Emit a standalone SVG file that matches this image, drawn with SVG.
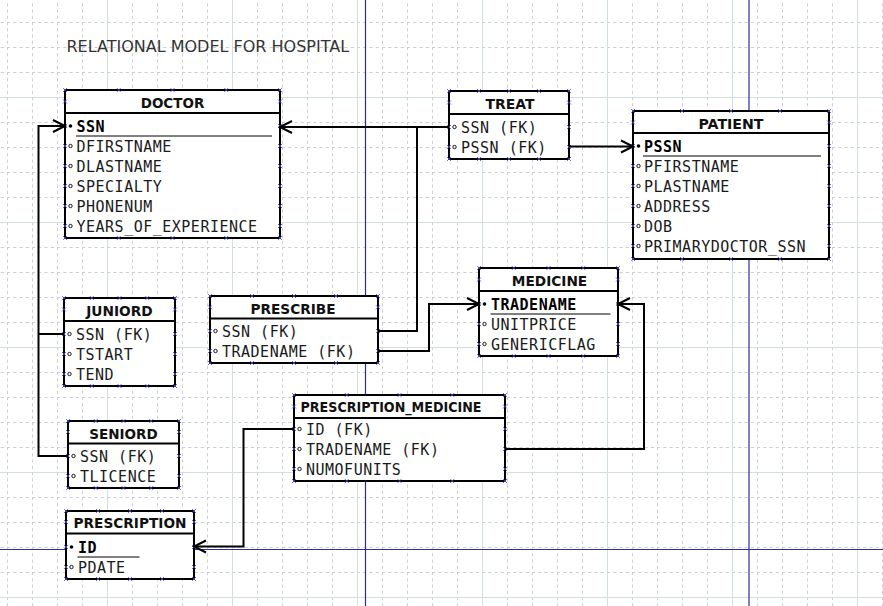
<svg xmlns="http://www.w3.org/2000/svg" width="883" height="606" viewBox="0 0 883 606">
<defs>
<style>
.box{fill:#fff;stroke:#000;stroke-width:2}
.sep{stroke:#000;stroke-width:2}
.hd{font-family:"DejaVu Sans",sans-serif;font-weight:bold;font-size:13.8px;text-anchor:middle;fill:#111}
.at{font-family:"DejaVu Sans Mono",monospace;font-size:15px;letter-spacing:.5px;fill:#1a1a1a}
.key{font-family:"DejaVu Sans Mono",monospace;font-size:15px;letter-spacing:.5px;font-weight:bold;fill:#000}
.ul{stroke:#000;stroke-width:1}
.fk{fill:#fff;stroke:#000;stroke-width:.9}
.pk{fill:#000}
.cps{fill:none;stroke:none;marker-start:url(#cpm);marker-mid:url(#cpm);marker-end:url(#cpm)}
.conn{fill:none;stroke:#000;stroke-width:2}
.arr{marker-end:url(#arrow)}
.page{stroke:#2c2c9c;stroke-width:1.2}
.gsolid{stroke:#d3dfdf;stroke-width:1}
</style>
<pattern id="grid" patternUnits="userSpaceOnUse" x="7" y="22" width="25" height="25">
<path d="M0.5,0V25M0,0.5H25" fill="none" stroke="#c9cfd2" stroke-width="1" stroke-dasharray="3.125 3.125"/>
</pattern>
<marker id="cpm" markerUnits="userSpaceOnUse" markerWidth="8" markerHeight="8" refX="4" refY="4" overflow="visible">
<path d="M2,2L6,6M2,6L6,2" stroke="#4a4ad2" stroke-width=".8" fill="none"/>
</marker>
<marker id="arrow" markerUnits="userSpaceOnUse" markerWidth="16" markerHeight="16" refX="0" refY="0" orient="auto" overflow="visible">
<path d="M-12,-6L0,0L-12,6" fill="none" stroke="#000" stroke-width="2"/>
</marker>
</defs>
<g id="background">
<rect width="883" height="606" fill="#fff"/>
<rect width="883" height="606" fill="url(#grid)"/>
<path class="gsolid" d="M107.5,0V606M232.5,0V606M357.5,0V606M482.5,0V606M607.5,0V606M732.5,0V606M857.5,0V606M0,97.5H883M0,222.5H883M0,347.5H883M0,472.5H883M0,597.5H883"/>
<path class="page" d="M365.5,0V606M749,0V606M0,549.5H883"/>
</g>
<text x="66.5" y="52" font-family="DejaVu Sans, sans-serif" font-size="16" fill="#333">RELATIONAL MODEL FOR HOSPITAL</text>

<g id="doctor">
<rect class="box" x="65" y="90" width="215" height="148"/>
<line class="sep" x1="65" y1="113" x2="280" y2="113"/>
<text class="hd" x="172.5" y="108" textLength="63.5" lengthAdjust="spacingAndGlyphs">DOCTOR</text>
<circle class="pk" cx="70.5" cy="126" r="1.8"/>
<text class="key" x="76.5" y="132">SSN</text>
<line class="ul" x1="76" y1="136" x2="272" y2="136"/>
<circle class="fk" cx="70.5" cy="146" r="1.7"/><text class="at" x="76.5" y="152">DFIRSTNAME</text>
<circle class="fk" cx="70.5" cy="166" r="1.7"/><text class="at" x="76.5" y="172">DLASTNAME</text>
<circle class="fk" cx="70.5" cy="186" r="1.7"/><text class="at" x="76.5" y="192">SPECIALTY</text>
<circle class="fk" cx="70.5" cy="206" r="1.7"/><text class="at" x="76.5" y="212">PHONENUM</text>
<circle class="fk" cx="70.5" cy="226" r="1.7"/><text class="at" x="76.5" y="232">YEARS_OF_EXPERIENCE</text>
<polyline class="cps" points="65,90 118.75,90 172.5,90 226.25,90 280,90 280,101.5 280,126 280,146 280,166 280,186 280,206 280,226 280,238 226.25,238 172.5,238 118.75,238 65,238 65,226 65,206 65,186 65,166 65,146 65,126 65,101.5"/>
</g>

<g id="treat">
<rect class="box" x="449" y="91" width="120" height="68"/>
<line class="sep" x1="449" y1="114" x2="569" y2="114"/>
<text class="hd" x="510" y="109" textLength="49" lengthAdjust="spacingAndGlyphs">TREAT</text>
<circle class="fk" cx="454.5" cy="127" r="1.7"/><text class="at" x="461" y="133">SSN (FK)</text>
<circle class="fk" cx="454.5" cy="147" r="1.7"/><text class="at" x="461" y="153">PSSN (FK)</text>
<polyline class="cps" points="449,91 479,91 509,91 539,91 569,91 569,102.5 569,127 569,147 569,159 539,159 509,159 479,159 449,159 449,147 449,127 449,102.5"/>
</g>

<g id="patient">
<rect class="box" x="633" y="111" width="196" height="148"/>
<line class="sep" x1="633" y1="133" x2="829" y2="133"/>
<text class="hd" x="731" y="129" textLength="65" lengthAdjust="spacingAndGlyphs">PATIENT</text>
<circle class="pk" cx="638.5" cy="146" r="1.8"/>
<text class="key" x="644" y="152">PSSN</text>
<line class="ul" x1="643" y1="156" x2="821" y2="156"/>
<circle class="fk" cx="638.5" cy="166" r="1.7"/><text class="at" x="644" y="172">PFIRSTNAME</text>
<circle class="fk" cx="638.5" cy="186" r="1.7"/><text class="at" x="644" y="192">PLASTNAME</text>
<circle class="fk" cx="638.5" cy="206" r="1.7"/><text class="at" x="644" y="212">ADDRESS</text>
<circle class="fk" cx="638.5" cy="226" r="1.7"/><text class="at" x="644" y="232">DOB</text>
<circle class="fk" cx="638.5" cy="246" r="1.7"/><text class="at" x="644" y="252">PRIMARYDOCTOR_SSN</text>
<polyline class="cps" points="633,111 682,111 731,111 780,111 829,111 829,122.5 829,146 829,166 829,186 829,206 829,226 829,246 829,259 780,259 731,259 682,259 633,259 633,246 633,226 633,206 633,186 633,166 633,146 633,122.5"/>
</g>

<g id="medicine">
<rect class="box" x="479" y="268" width="139" height="88"/>
<line class="sep" x1="479" y1="291" x2="618" y2="291"/>
<text class="hd" x="549.5" y="286" textLength="75.5" lengthAdjust="spacingAndGlyphs">MEDICINE</text>
<circle class="pk" cx="484.5" cy="304" r="1.8"/>
<text class="key" x="491" y="310">TRADENAME</text>
<line class="ul" x1="490.5" y1="314" x2="610.5" y2="314"/>
<circle class="fk" cx="484.5" cy="324" r="1.7"/><text class="at" x="491" y="330">UNITPRICE</text>
<circle class="fk" cx="484.5" cy="344" r="1.7"/><text class="at" x="491" y="350">GENERICFLAG</text>
<polyline class="cps" points="479,268 513.75,268 548.5,268 583.25,268 618,268 618,279.5 618,304 618,324 618,344 618,356 583.25,356 548.5,356 513.75,356 479,356 479,344 479,324 479,304 479,279.5"/>
</g>

<g id="juniord">
<rect class="box" x="64" y="298" width="111" height="88"/>
<line class="sep" x1="64" y1="321" x2="175" y2="321"/>
<text class="hd" x="119.5" y="316" textLength="66.5" lengthAdjust="spacingAndGlyphs">JUNIORD</text>
<circle class="fk" cx="69.5" cy="334" r="1.7"/><text class="at" x="76" y="340">SSN (FK)</text>
<circle class="fk" cx="69.5" cy="354" r="1.7"/><text class="at" x="76" y="360">TSTART</text>
<circle class="fk" cx="69.5" cy="374" r="1.7"/><text class="at" x="76" y="380">TEND</text>
<polyline class="cps" points="64,298 91.75,298 119.5,298 147.25,298 175,298 175,309.5 175,334 175,354 175,374 175,386 147.25,386 119.5,386 91.75,386 64,386 64,374 64,354 64,334 64,309.5"/>
</g>

<g id="prescribe">
<rect class="box" x="210" y="296" width="168" height="67"/>
<line class="sep" x1="210" y1="318.5" x2="378" y2="318.5"/>
<text class="hd" x="293" y="313.5" textLength="85" lengthAdjust="spacingAndGlyphs">PRESCRIBE</text>
<circle class="fk" cx="215.5" cy="331" r="1.7"/><text class="at" x="222" y="337">SSN (FK)</text>
<circle class="fk" cx="215.5" cy="351" r="1.7"/><text class="at" x="222" y="357">TRADENAME (FK)</text>
<polyline class="cps" points="210,296 252,296 294,296 336,296 378,296 378,307.25 378,331 378,351 378,363 336,363 294,363 252,363 210,363 210,351 210,331 210,307.25"/>
</g>

<g id="prescription_medicine">
<rect class="box" x="294" y="395" width="211" height="86"/>
<line class="sep" x1="294" y1="418" x2="505" y2="418"/>
<text class="hd" x="391" y="412" textLength="181" lengthAdjust="spacingAndGlyphs">PRESCRIPTION_MEDICINE</text>
<circle class="fk" cx="299.5" cy="429" r="1.7"/><text class="at" x="306" y="435">ID (FK)</text>
<circle class="fk" cx="299.5" cy="449" r="1.7"/><text class="at" x="306" y="455">TRADENAME (FK)</text>
<circle class="fk" cx="299.5" cy="469" r="1.7"/><text class="at" x="306" y="475">NUMOFUNITS</text>
<polyline class="cps" points="294,395 346.75,395 399.5,395 452.25,395 505,395 505,406.5 505,429 505,449 505,469 505,481 452.25,481 399.5,481 346.75,481 294,481 294,469 294,449 294,429 294,406.5"/>
</g>

<g id="seniord">
<rect class="box" x="68" y="421" width="111" height="67"/>
<line class="sep" x1="68" y1="443.5" x2="179" y2="443.5"/>
<text class="hd" x="123.5" y="439" textLength="68.5" lengthAdjust="spacingAndGlyphs">SENIORD</text>
<circle class="fk" cx="73.5" cy="456" r="1.7"/><text class="at" x="80" y="462">SSN (FK)</text>
<circle class="fk" cx="73.5" cy="476" r="1.7"/><text class="at" x="80" y="482">TLICENCE</text>
<polyline class="cps" points="68,421 95.75,421 123.5,421 151.25,421 179,421 179,432 179,456 179,476 179,488 151.25,488 123.5,488 95.75,488 68,488 68,476 68,456 68,432"/>
</g>

<g id="prescription">
<rect class="box" x="66" y="511" width="128" height="68"/>
<line class="sep" x1="66" y1="533.5" x2="194" y2="533.5"/>
<text class="hd" x="130" y="528" textLength="113" lengthAdjust="spacingAndGlyphs">PRESCRIPTION</text>
<circle class="pk" cx="71.5" cy="547" r="1.8"/>
<text class="key" x="78" y="553">ID</text>
<line class="ul" x1="77.5" y1="557" x2="139.5" y2="557"/>
<circle class="fk" cx="71.5" cy="567" r="1.7"/><text class="at" x="78" y="573">PDATE</text>
<polyline class="cps" points="66,511 98,511 130,511 162,511 194,511 194,522 194,547 194,567 194,579 162,579 130,579 98,579 66,579 66,567 66,547 66,522"/>
</g>

<g id="connectors">
<path class="conn arr" d="M449,127H280"/>
<path class="conn" d="M378,331H417V127"/>
<path class="conn arr" d="M569,146.5H633"/>
<path class="conn arr" d="M378,351H429V304H479"/>
<path class="conn arr" d="M505,449H644V304H618"/>
<path class="conn arr" d="M294,429H243.5V546.5H194"/>
<path class="conn arr" d="M68,456H38.5V126H65"/>
<path class="conn" d="M38.5,334H64"/>
</g>
</svg>
